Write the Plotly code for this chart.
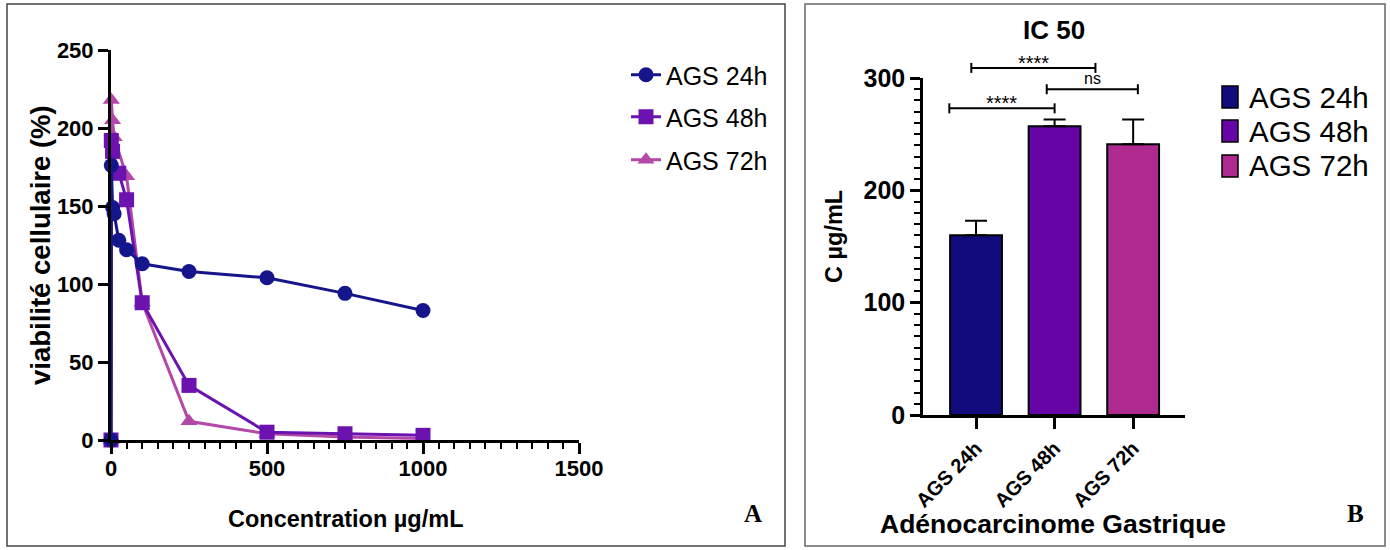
import plotly.graph_objects as go

# ---- Panel A: viability curves ----
conc_24 = [0, 1, 5, 10, 25, 50, 100, 250, 500, 750, 1000]
viab_24 = [0, 176, 149, 145, 128, 122, 113, 108, 104, 94, 83]

conc_48 = [0, 1, 5, 25, 50, 100, 250, 500, 750, 1000]
viab_48 = [0, 192, 185, 171, 154, 88, 35, 5, 4, 3]

conc_72 = [0, 1, 5, 10, 50, 100, 250, 500, 750, 1000]
viab_72 = [0, 218, 205, 194, 169, 88, 12, 4, 2, 1]

# ---- Panel B: IC50 bars ----
groups = ["AGS 24h", "AGS 48h", "AGS 72h"]
ic50 = [160, 257, 241]
ic50_err = [13, 6, 22]

# significance brackets: (from, to, level, label)
brackets = [
    (-0.06, 1.52, 309, "****"),
    (0.90, 2.06, 290, "ns"),
    (-0.34, 1.00, 273, "****"),
]

line_cols = ["#16168c", "#6c12ae", "#b448a8"]
bar_cols = ["#110b7e", "#6704a8", "#ae2a8e"]

W, H = 1390, 550
def px(x):
    return x / W
def py(y):
    return 1 - y / H

SANS = "Liberation Sans, Arial, sans-serif"
SERIF = "Liberation Serif, Times New Roman, serif"

# plot areas (pixel positions of the axes)
A_DOM_X = [px(111), px(579)]
A_DOM_Y = [py(440), py(50)]
B_DOM_X = [px(923), px(1185)]
B_DOM_Y = [py(415), py(78)]
B_YMAX = 300

def b_y(v):
    return B_DOM_Y[0] + v / B_YMAX * (B_DOM_Y[1] - B_DOM_Y[0])

fig = go.Figure()

series = [
    ("AGS 24h", conc_24, viab_24, "circle"),
    ("AGS 48h", conc_48, viab_48, "square"),
    ("AGS 72h", conc_72, viab_72, "triangle-up"),
]
legend_rows_a = [75, 117, 160]
# draw in reverse so the 24h curve sits on top
for i in [2, 1, 0]:
    name, xs, ys, sym = series[i]
    fig.add_trace(go.Scatter(
        x=xs, y=ys, mode="lines+markers", name=name,
        line=dict(color=line_cols[i], width=3),
        marker=dict(symbol=sym, size=15, color=line_cols[i]),
        cliponaxis=False, legend="legend" if i == 0 else "legend%d" % (i + 1),
        xaxis="x", yaxis="y",
    ))

for i, g in enumerate(groups):
    fig.add_trace(go.Bar(
        x=[i], y=[ic50[i]], name=g, width=0.66, showlegend=False,
        marker=dict(color=bar_cols[i], line=dict(color="black", width=2)),
        error_y=dict(type="data", array=[ic50_err[i]], arrayminus=[0],
                     symmetric=False, color="black", thickness=2, width=11),
        xaxis="x2", yaxis="y2",
    ))

legend_style = dict(font=dict(family=SANS, size=25, color="black"),
                    bgcolor="rgba(0,0,0,0)", itemwidth=30,
                    xanchor="left", yanchor="middle")
legends = {}
for i, row in enumerate(legend_rows_a):
    key = "legend" if i == 0 else "legend%d" % (i + 1)
    legends[key] = dict(x=px(626), y=py(row), **legend_style)

tick_font = dict(family=SANS, size=22, color="black", weight="bold")

fig.update_layout(
    template="none",
    width=W, height=H, autosize=False,
    margin=dict(l=0, r=0, t=0, b=0, pad=0, autoexpand=False),
    paper_bgcolor="white", plot_bgcolor="white",
    showlegend=True,
    barmode="overlay",
    xaxis=dict(
        domain=A_DOM_X, range=[0, 1500], automargin=False,
        showgrid=False, zeroline=False,
        showline=True, linecolor="black", linewidth=3,
        ticks="outside", ticklen=11, tickwidth=2.5, tickcolor="black",
        tickvals=[0, 500, 1000, 1500], ticklabelstandoff=-4,
        minor=dict(dtick=50, ticks="outside", ticklen=6, tickwidth=2, tickcolor="black"),
        tickfont=tick_font,
        anchor="y",
    ),
    yaxis=dict(
        domain=A_DOM_Y, range=[0, 250], automargin=False,
        showgrid=False, zeroline=False,
        showline=True, linecolor="black", linewidth=3,
        ticks="outside", ticklen=10, tickwidth=2.5, tickcolor="black",
        tickvals=[0, 50, 100, 150, 200, 250],
        tickfont=tick_font,
        anchor="x",
    ),
    xaxis2=dict(
        domain=B_DOM_X, range=[-0.675, 2.66], automargin=False,
        showgrid=False, zeroline=False,
        showline=True, linecolor="black", linewidth=2.5,
        ticks="outside", ticklen=11, tickwidth=2.5, tickcolor="black",
        tickvals=[0, 1, 2], ticktext=groups, tickangle=-45,
        tickfont=dict(family=SANS, size=20, color="black", weight="bold"),
        anchor="y2",
    ),
    yaxis2=dict(
        domain=B_DOM_Y, range=[0, B_YMAX], automargin=False,
        showgrid=False, zeroline=False,
        showline=True, linecolor="black", linewidth=2.5,
        ticks="outside", ticklen=10, tickwidth=2.5, tickcolor="black",
        tickvals=[0, 100, 200, 300],
        minor=dict(dtick=10, ticks="outside", ticklen=6, tickwidth=2, tickcolor="black"),
        tickfont=dict(family=SANS, size=25, color="black", weight="bold"),
        anchor="x2",
    ),
    **legends,
)

shapes = [
    dict(type="rect", xref="paper", yref="paper",
         x0=px(7), x1=px(785), y0=py(546), y1=py(4),
         line=dict(color="#444", width=1.5)),
    dict(type="rect", xref="paper", yref="paper",
         x0=px(805), x1=px(1385), y0=py(546), y1=py(4),
         line=dict(color="#666", width=1.5)),
]

def label(text, x, y, size, family=SANS, bold=True, angle=0):
    return dict(text=text, xref="paper", yref="paper", x=x, y=y,
                xanchor="center", yanchor="middle", textangle=angle,
                showarrow=False,
                font=dict(family=family, size=size, color="black",
                          weight="bold" if bold else "normal"))

annotations = [
    label("viabilité cellulaire (%)", px(40), py(245), 27.5, angle=-90),
    label("Concentration µg/mL", px(345), py(519), 23.5),
    label("A", px(753), py(513), 25, family=SERIF),
    label("B", px(1355), py(513), 25, family=SERIF),
    label("IC 50", px(1054), py(30), 26),
    label("C µg/mL", px(834), py(237), 23.5, angle=-90),
    label("Adénocarcinome Gastrique", px(1053), py(524), 26.5),
]

# legend for the IC50 bars
legend_rows_b = [97, 131, 166]
for i, g in enumerate(groups):
    yc = py(legend_rows_b[i])
    shapes.append(dict(type="rect", xref="paper", yref="paper",
                       x0=px(1222), x1=px(1238), y0=yc - 11 / H, y1=yc + 11 / H,
                       fillcolor=bar_cols[i], line=dict(color="black", width=1.5)))
    annotations.append(dict(text=g, xref="paper", yref="paper", x=px(1247), y=yc,
                            xanchor="left", yanchor="middle", showarrow=False,
                            font=dict(family=SANS, size=29.5, color="black")))

# significance brackets above the bars
cap = 5 / H
for x0, x1, yv, txt in brackets:
    yp = b_y(yv)
    shapes.append(dict(type="line", xref="x2", yref="paper", x0=x0, x1=x1, y0=yp, y1=yp,
                       line=dict(color="black", width=2)))
    for xe in (x0, x1):
        shapes.append(dict(type="line", xref="x2", yref="paper", x0=xe, x1=xe,
                           y0=yp - cap, y1=yp + cap, line=dict(color="black", width=2)))
    if txt == "ns":
        annotations.append(dict(text=txt, xref="x2", yref="paper", x=(x0 + x1) / 2, y=yp,
                                yanchor="bottom", showarrow=False, yshift=0,
                                font=dict(family=SANS, size=16, color="black")))
    else:
        annotations.append(dict(text=txt, xref="x2", yref="paper", x=(x0 + x1) / 2, y=yp,
                                yanchor="bottom", showarrow=False, yshift=-8,
                                font=dict(family=SANS, size=20, color="black")))

fig.update_layout(shapes=shapes, annotations=annotations)
fig.write_html("out.html", post_script="document.body.style.margin='0';")
